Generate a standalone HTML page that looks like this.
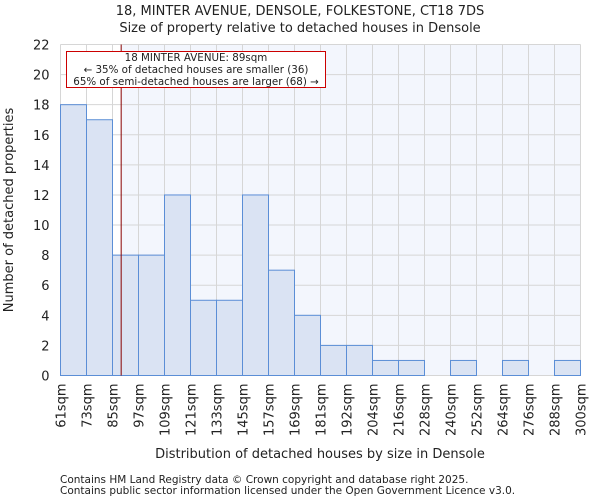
<!DOCTYPE html>
<html><head><meta charset="utf-8"><style>
body{margin:0;background:#fff;font-family:"DejaVu Sans","Liberation Sans",sans-serif}
svg text{font-family:"DejaVu Sans","Liberation Sans",sans-serif;fill:#222}
</style></head><body>
<svg id="c" width="600" height="500"></svg>
<script>
const categories=["61sqm","73sqm","85sqm","97sqm","109sqm","121sqm","133sqm","145sqm","157sqm","169sqm","181sqm","192sqm","204sqm","216sqm","228sqm","240sqm","252sqm","264sqm","276sqm","288sqm","300sqm"];
const counts=[18,17,8,8,12,5,5,12,7,4,2,2,1,1,0,1,0,1,0,1];
const yTicks=[0,2,4,6,8,10,12,14,16,18,20,22];
const markerValue=89;
const binStart=61, binWidth=12;
const NS="http://www.w3.org/2000/svg";
const svg=document.getElementById('c');
const L=60.5,R=580.5,T=44.5,B=375.5,yMax=22;
const bw=(R-L)/counts.length;
const y=v=>B-(B-T)*v/yMax;
const xv=v=>L+(v-binStart)/binWidth*bw;
function el(t,a,txt){const e=document.createElementNS(NS,t);for(const k in a)e.setAttribute(k,a[k]);if(txt!=null)e.textContent=txt;svg.appendChild(e);return e;}
let e;
e=el('rect',{x:L,y:T,width:R-L,height:B-T,fill:'#fff'});

const mx=xv(markerValue);
e=el('rect',{x:mx,y:T,width:R-mx,height:B-T,fill:'#f3f6fd'});

yTicks.forEach(t=>{
 e=el('line',{x1:L,x2:R,y1:y(t),y2:y(t),stroke:'#d6d6d6','stroke-width':1});
 
 e=el('text',{x:L-11,y:y(t)+5,'text-anchor':'end','font-size':13},t);
 
});
categories.forEach((c,i)=>{
 const x=L+i*bw;
 e=el('line',{x1:x,x2:x,y1:T,y2:B,stroke:'#d6d6d6','stroke-width':1});
 
 e=el('text',{transform:`translate(${x+5},${B+8}) rotate(-90)`,'text-anchor':'end','font-size':13},c);
 
});
counts.forEach((v,i)=>{
 if(v<=0)return;
 e=el('rect',{x:L+i*bw,y:y(v),width:bw,height:B-y(v),fill:'#dae3f3',stroke:'#5b8ed6','stroke-width':1});
 
});
e=el('line',{x1:mx,x2:mx,y1:T,y2:B,stroke:'#800','stroke-width':1});

e=el('rect',{x:66.5,y:51.5,width:259,height:36,fill:'#fff',stroke:'#c00','stroke-width':1});

[["18 MINTER AVENUE: 89sqm",62],["← 35% of detached houses are smaller (36)",74],["65% of semi-detached houses are larger (68) →",86]].forEach(([t,yy])=>{
 e=el('text',{x:196,y:yy-1,'text-anchor':'middle','font-size':10.3},t);
 
});
e=el('text',{x:300,y:15,'text-anchor':'middle','font-size':13},'18, MINTER AVENUE, DENSOLE, FOLKESTONE, CT18 7DS');

e=el('text',{x:300,y:32,'text-anchor':'middle','font-size':13},'Size of property relative to detached houses in Densole');

e=el('text',{x:320,y:458,'text-anchor':'middle','font-size':13},'Distribution of detached houses by size in Densole');

e=el('text',{transform:'translate(13,210) rotate(-90)','text-anchor':'middle','font-size':13},'Number of detached properties');

e=el('text',{x:60,y:483,'font-size':10.5},'Contains HM Land Registry data © Crown copyright and database right 2025.');

e=el('text',{x:60,y:494,'font-size':10.5},'Contains public sector information licensed under the Open Government Licence v3.0.');

</script>
</body></html>
